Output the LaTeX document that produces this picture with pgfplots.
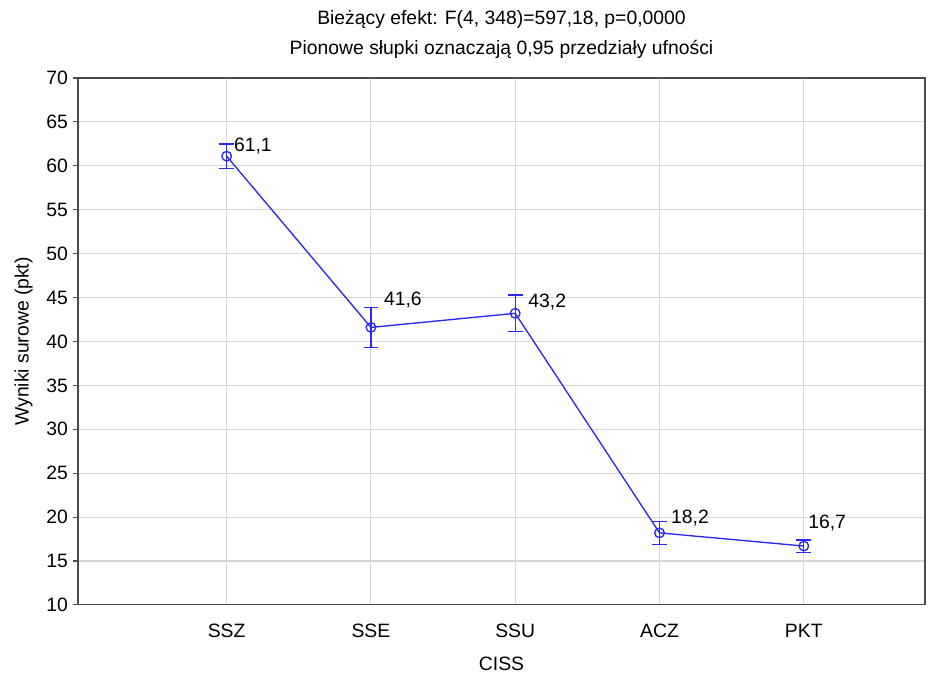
\documentclass[border=0pt]{standalone}
\usepackage{pgfplots}
\pgfplotsset{compat=1.18}
\usepackage{fontspec}
\setmainfont{Liberation Sans}
\definecolor{lineblue}{RGB}{40,40,250}
\definecolor{gridgray}{RGB}{215,215,215}
\begin{document}
\begin{tikzpicture}
\begin{axis}[
    scale only axis,
    width=635pt, height=395pt,
    xmin=-1.03, xmax=4.84,
    ymin=10, ymax=70,
    ytick={10,15,...,70},
    ytick pos=left,
    xtick={0,1,2,3,4},
    xticklabels={SSZ,SSE,SSU,ACZ,PKT},
    grid=major,
    major grid style={gridgray, line width=0.8pt},
    axis line style={black!70, line width=0.8pt},
    tick style={black!70, line width=0.8pt},
    tick align=outside,
    major tick length=4pt,
    xtick style={draw=none},
    ticklabel style={font=\fontsize{14.5}{16}\selectfont},
    xticklabel style={yshift=-7pt},
    /pgf/number format/assume math mode=true,
    xlabel={CISS},
    ylabel={Wyniki surowe (pkt)},
    label style={font=\fontsize{14.5}{16}\selectfont},
    xlabel style={yshift=-7.5pt},
    ylabel style={yshift=3.5pt},
    title style={font=\fontsize{14.5}{22.5}\selectfont, align=center, yshift=5pt},
    title={Bieżący efekt: F(4, 348)=597,18, p=0,0000\\Pionowe słupki oznaczają 0,95 przedziały ufności},
    clip=false,
]
\addplot+[
    lineblue, line width=1pt,
    mark=o, mark size=3.6pt, mark options={draw=lineblue, line width=1pt, fill=none},
    error bars/.cd, y dir=both, y explicit,
    error bar style={draw=lineblue, line width=1pt},
    error mark options={draw=lineblue, line width=1pt, rotate=90, mark size=5.5pt},
] coordinates {
    (0,61.1) +- (0,1.4)
    (1,41.6) +- (0,2.3)
    (2,43.2) +- (0,2.1)
    (3,18.2) +- (0,1.3)
    (4,16.7) +- (0,0.7)
};
\addplot[
    only marks, mark=none,
    nodes near coords, point meta=explicit symbolic,
    nodes near coords style={anchor=south west, font=\fontsize{14.5}{16}\selectfont, text=black, inner sep=1pt},
] coordinates {
    (0.04,61.2) [61,1]
    (1.08,43.6) [41,6]
    (2.08,43.4) [43,2]
    (3.07,18.8) [18,2]
    (4.02,18.2) [16,7]
};
\end{axis}
\pgfresetboundingbox
\path (current axis.south west) ++(-58.5pt,-52.5pt) rectangle ([shift={(7.5pt,58.5pt)}]current axis.north east);
\end{tikzpicture}
\end{document}
